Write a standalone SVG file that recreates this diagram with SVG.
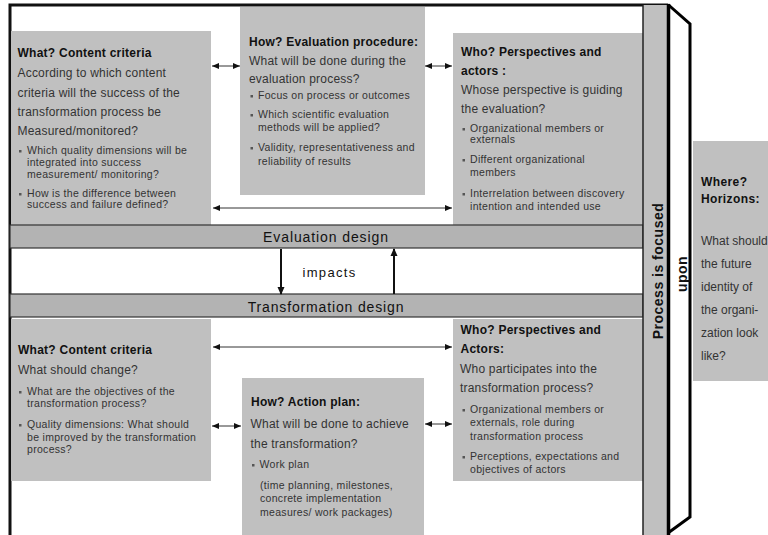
<svg xmlns="http://www.w3.org/2000/svg" width="768" height="535" viewBox="0 0 768 535">
<style>
text{font-family:"Liberation Sans",Arial,sans-serif}
.box{fill:#c0c0c0}
.bar{fill:#b3b3b3;stroke:#333;stroke-width:1.2}
.h{font-size:12px;font-weight:bold;fill:#111;letter-spacing:0.25px}
.b{font-size:12px;fill:#333;letter-spacing:0.2px}
.s{font-size:10.5px;fill:#333;letter-spacing:0.3px}
.bul{fill:#555}
.bt{font-size:14px;fill:#111;letter-spacing:0.9px;text-anchor:middle}
.vt{font-size:14px;font-weight:bold;fill:#111;letter-spacing:0.5px;text-anchor:middle}
.arr{stroke:#333;stroke-width:1;fill:none;marker-start:url(#ah);marker-end:url(#ah)}
.varr{stroke:#111;stroke-width:2;fill:none;marker-end:url(#ah2)}
</style>
<defs>
<marker id="ah" markerUnits="userSpaceOnUse" markerWidth="7" markerHeight="6" viewBox="0 0 7 6" refX="7" refY="3" orient="auto-start-reverse"><path d="M0,0 L7,3 L0,6 z" fill="#111"/></marker>
<marker id="ah2" markerUnits="userSpaceOnUse" markerWidth="8" markerHeight="8" viewBox="0 0 8 8" refX="7" refY="4" orient="auto"><path d="M0,0.5 L8,4 L0,7.5 z" fill="#111"/></marker>
</defs>
<rect width="768" height="535" fill="#fff"/>

<g id="frame">
<polyline points="10,535 10,5 668,5" fill="none" stroke="#111" stroke-width="3"/>
</g>

<g id="eval-what">
<rect class="box" x="11" y="31" width="200" height="194"/>
<text class="h" x="17.5" y="57">What? Content criteria</text>
<text class="b" x="17.5" y="77">According to which content</text>
<text class="b" x="17.5" y="97">criteria will the success of the</text>
<text class="b" x="17.5" y="116">transformation process be</text>
<text class="b" x="17.5" y="135">Measured/monitored?</text>
<rect class="bul" x="19" y="150" width="2.5" height="2.5"/>
<text class="s" x="27" y="154">Which quality dimensions will be</text>
<text class="s" x="27" y="166">integrated into success</text>
<text class="s" x="27" y="177.5">measurement/ monitoring?</text>
<rect class="bul" x="19" y="193" width="2.5" height="2.5"/>
<text class="s" x="27" y="197">How is the difference between</text>
<text class="s" x="27" y="208">success and failure defined?</text>
</g>

<g id="eval-how">
<rect class="box" x="240" y="7" width="185" height="188"/>
<text class="h" x="249" y="46">How? Evaluation procedure:</text>
<text class="b" x="249" y="65">What will be done during the</text>
<text class="b" x="249" y="83">evaluation process?</text>
<rect class="bul" x="250.5" y="95" width="2.5" height="2.5"/>
<text class="s" x="258" y="99">Focus on process or outcomes</text>
<rect class="bul" x="250.5" y="114" width="2.5" height="2.5"/>
<text class="s" x="258" y="118">Which scientific evaluation</text>
<text class="s" x="258" y="131">methods will be applied?</text>
<rect class="bul" x="250.5" y="147" width="2.5" height="2.5"/>
<text class="s" x="258" y="151">Validity, representativeness and</text>
<text class="s" x="258" y="165">reliability of results</text>
</g>

<g id="eval-who">
<rect class="box" x="453" y="33" width="190" height="192"/>
<text class="h" x="461" y="56">Who? Perspectives and</text>
<text class="h" x="461" y="75">actors :</text>
<text class="b" x="461" y="94">Whose perspective is guiding</text>
<text class="b" x="461" y="113">the evaluation?</text>
<rect class="bul" x="462.5" y="128" width="2.5" height="2.5"/>
<text class="s" x="470" y="132">Organizational members or</text>
<text class="s" x="470" y="143">externals</text>
<rect class="bul" x="462.5" y="159" width="2.5" height="2.5"/>
<text class="s" x="470" y="163">Different organizational</text>
<text class="s" x="470" y="176">members</text>
<rect class="bul" x="462.5" y="193" width="2.5" height="2.5"/>
<text class="s" x="470" y="197">Interrelation between discovery</text>
<text class="s" x="470" y="210">intention and intended use</text>
</g>

<g id="eval-design">
<rect class="bar" x="10" y="225" width="633" height="23"/>
<text class="bt" x="326" y="242">Evaluation design</text>
</g>

<g id="trans-design">
<rect class="bar" x="10" y="294" width="633" height="23"/>
<text class="bt" x="326" y="312" style="letter-spacing:0.85px">Transformation design</text>
</g>

<g id="trans-what">
<rect class="box" x="11" y="319" width="200" height="162"/>
<text class="h" x="18" y="354">What? Content criteria</text>
<text class="b" x="18" y="374">What should change?</text>
<rect class="bul" x="19" y="391" width="2.5" height="2.5"/>
<text class="s" x="27" y="395">What are the objectives of the</text>
<text class="s" x="27" y="407">transformation process?</text>
<rect class="bul" x="19" y="424" width="2.5" height="2.5"/>
<text class="s" x="27" y="428">Quality dimensions: What should</text>
<text class="s" x="27" y="441">be improved by the transformation</text>
<text class="s" x="27" y="453">process?</text>
</g>

<g id="trans-how">
<rect class="box" x="242" y="378" width="182" height="157"/>
<text class="h" x="251" y="406">How? Action plan:</text>
<text class="b" x="250.5" y="428">What will be done to achieve</text>
<text class="b" x="250.5" y="448">the transformation?</text>
<rect class="bul" x="252" y="464" width="2.5" height="2.5"/>
<text class="s" x="259.5" y="468">Work plan</text>
<text class="s" x="260" y="489">(time planning, milestones,</text>
<text class="s" x="260" y="502">concrete implementation</text>
<text class="s" x="260" y="516">measures/ work packages)</text>
</g>

<g id="trans-who">
<rect class="box" x="453" y="319" width="190" height="162"/>
<text class="h" x="460.5" y="334">Who? Perspectives and</text>
<text class="h" x="460.5" y="353">Actors:</text>
<text class="b" x="460" y="373">Who participates into the</text>
<text class="b" x="460" y="392">transformation process?</text>
<rect class="bul" x="462.5" y="409" width="2.5" height="2.5"/>
<text class="s" x="470" y="413">Organizational members or</text>
<text class="s" x="470" y="426">externals, role during</text>
<text class="s" x="470" y="440">transformation process</text>
<rect class="bul" x="462.5" y="456" width="2.5" height="2.5"/>
<text class="s" x="470" y="460">Perceptions, expectations and</text>
<text class="s" x="470" y="473">objectives of actors</text>
</g>

<g id="process-focused">
<rect x="643" y="5" width="25" height="530" fill="#c0c0c0"/>
<line x1="643" y1="5" x2="643" y2="535" stroke="#222" stroke-width="1.5"/>
<text class="vt" transform="translate(662.5,271) rotate(-90)">Process is focused</text>
</g>

<g id="upon">
<polygon points="668.5,5 690,24 690,517 668.5,533" fill="#fff"/>
<polyline points="668,4.5 690,24 690,517 668,533" fill="none" stroke="#000" stroke-width="3"/>
<line x1="668.5" y1="4" x2="668.5" y2="535" stroke="#000" stroke-width="3.5"/>
<text class="vt" transform="translate(686.5,274) rotate(-90)">upon</text>
</g>

<g id="where">
<rect class="box" x="693" y="141" width="75" height="240"/>
<text class="h" x="701" y="186" style="letter-spacing:0.4px">Where?</text>
<text class="h" x="701" y="203" style="letter-spacing:0.4px">Horizons:</text>
<text class="b" x="701" y="245" style="letter-spacing:0">What should</text>
<text class="b" x="701" y="268" style="letter-spacing:0">the future</text>
<text class="b" x="701" y="291" style="letter-spacing:0">identity of</text>
<text class="b" x="701" y="314" style="letter-spacing:0">the organi-</text>
<text class="b" x="701" y="337" style="letter-spacing:0">zation look</text>
<text class="b" x="701" y="360" style="letter-spacing:0">like?</text>
</g>

<g id="connectors">
<line class="arr" x1="212" y1="66" x2="240" y2="66"/>
<line class="arr" x1="425" y1="66" x2="452" y2="66"/>
<line class="arr" x1="213" y1="208" x2="452" y2="208"/>
<line class="varr" x1="281" y1="249" x2="281" y2="294"/>
<line class="varr" x1="394" y1="294" x2="394" y2="249"/>
<text x="329.5" y="277" style="font-size:13px;fill:#111;letter-spacing:1.3px;text-anchor:middle">impacts</text>
<line class="arr" x1="213" y1="347" x2="452" y2="347"/>
<line class="arr" x1="212" y1="426" x2="241" y2="426"/>
<line class="arr" x1="425" y1="424" x2="452" y2="424"/>
</g>
</svg>
